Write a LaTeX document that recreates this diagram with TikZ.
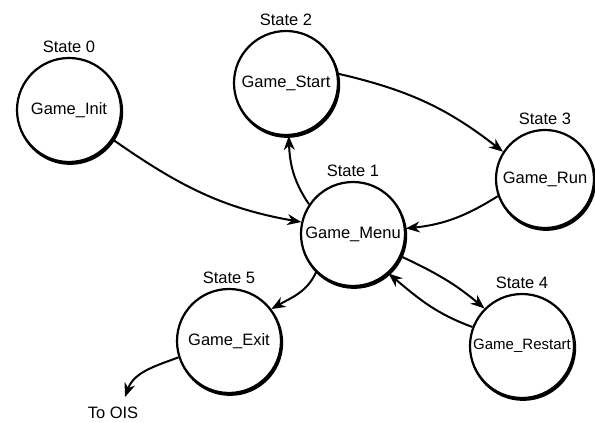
\documentclass[tikz,border=0pt]{standalone}
\usepackage{fontspec}
\setmainfont{Liberation Sans}
\usetikzlibrary{arrows.meta,shadows}

\tikzset{
  state/.style={circle, draw=black, fill=white, line width=2.2pt,
    minimum size=104pt, inner sep=0pt,
    font=\fontsize{16.5}{19}\selectfont,
    general shadow={shadow xshift=1.1pt, shadow yshift=-1.8pt,
      draw=black, fill=black}},
  lbl/.style={font=\fontsize{16.5}{19}\selectfont, inner sep=1pt},
  trans/.style={line width=2pt, -{Stealth[length=14pt,width=11pt,inset=4.5pt]}},
}

\begin{document}
\begin{tikzpicture}[x=1pt,y=1pt]
\useasboundingbox (0,0) rectangle (595,423);

% states
\node[state, label={[lbl, label distance=3pt]above:State 0}] (init)    at (69,313)  {Game\_Init};
\node[state, label={[lbl, label distance=3pt]above:State 2}] (start)   at (286,340) {Game\_Start};
\node[state, minimum size=98pt, label={[lbl, label distance=3pt]above:State 3}] (run) at (545,244) {Game\_Run};
\node[state, label={[lbl, label distance=3pt]above:State 1}] (menu)    at (353,189) {Game\_Menu};
\node[state, font=\fontsize{15}{18}\selectfont,
      label={[lbl, label distance=3pt]above:State 4}]        (restart) at (522,77)  {Game\_Restart};
\node[state, label={[lbl, label distance=3pt]above:State 5}] (exit)    at (229,82)  {Game\_Exit};

% leaving the program
\node[lbl] (ois) at (113,10) {To OIS};
\coordinate (oisend) at (125,26);

% transitions
\draw[trans] (init.-34)    to[out=-35, in=170] (menu.167);
\draw[trans] (menu.146)    to[out=124, in=-88] (start.-87);
\draw[trans] (start.10)    to[out=-13, in=142] (run.147);
\draw[trans] (run.200)     to[out=212, in=6]   (menu.6);
\draw[trans] (menu.-25)    to[out=-25, in=140] (restart.135);
\draw[trans] (restart.159) to[out=160, in=-40] (menu.-48);
\draw[trans] (menu.-134)   to[out=245, in=30]  (exit.37);
\draw[trans] (exit.198)    to[out=200, in=70]  (oisend);
\end{tikzpicture}
\end{document}
